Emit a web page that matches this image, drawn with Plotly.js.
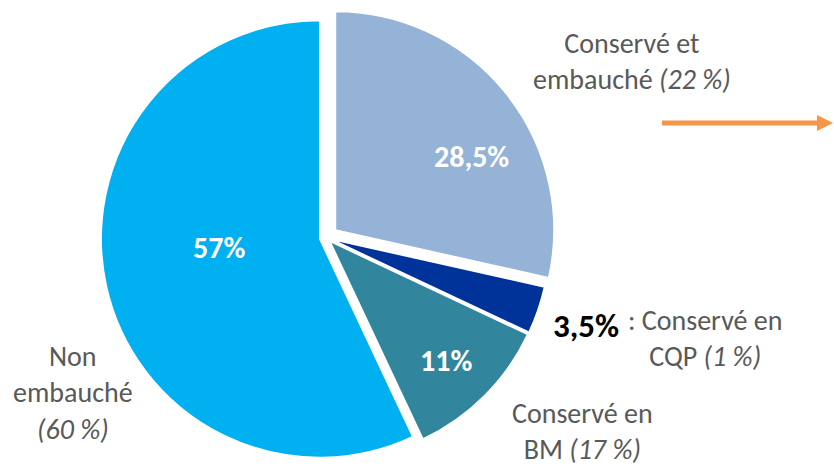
<!DOCTYPE html>
<html>
<head>
<meta charset="utf-8">
<script src="https://cdn.plot.ly/plotly-3.0.1.min.js"></script>
<style>html,body{margin:0;padding:0;background:#fff;}#chart{width:834px;height:468px;}</style>
</head>
<body>
<div id="chart"></div>
<script>
// ---- data ----
var labels = ["Conservé et embauché", "Conservé en CQP", "Conservé en BM", "Non embauché"];
var values = [28.5, 3.5, 11, 57];
var valueText = ["28,5%", "3,5%", "11%", "57%"];
var shareText = ["22 %", "1 %", "17 %", "60 %"];
var colors = ["#95B3D7", "#003399", "#31859C", "#00B0F0"];
var pulls = [0.055, 0.025, 0.025, 0.03];

var FONT = "Carlito, Lato, 'Liberation Sans', sans-serif";
var GRAY = "#595959";
var W = 834, H = 468;
function px(x) { return x / W; }
function py(y) { return 1 - y / H; }

var trace = {
  type: "pie",
  labels: labels,
  values: values,
  sort: false,
  direction: "clockwise",
  rotation: 0,
  pull: pulls,
  marker: { colors: colors, line: { color: "#ffffff", width: 1.5 } },
  textinfo: "none",
  hoverinfo: "label+percent",
  domain: { x: [0.09, 0.692], y: [0, 0.985] }
};

function insideLabel(i, x, y) {
  return { text: "<b>" + valueText[i] + "</b>", x: px(x), y: py(y), xref: "paper", yref: "paper",
    showarrow: false, xanchor: "center", yanchor: "middle",
    font: { family: FONT, size: 30, color: "#ffffff" } };
}

var annotations = [
  insideLabel(0, 471, 157),
  insideLabel(3, 219, 247),
  insideLabel(2, 446, 360),
  { text: "Conservé et<br>embauché <i>(" + shareText[0] + ")</i>", x: px(632), y: py(62),
    xref: "paper", yref: "paper", showarrow: false, xanchor: "center", yanchor: "middle",
    font: { family: FONT, size: 28, color: GRAY } },
  { text: "<b>" + valueText[1] + "</b>", x: px(551), y: py(326),
    xref: "paper", yref: "paper", showarrow: false, xanchor: "left", yanchor: "middle",
    font: { family: FONT, size: 33, color: "#000000" } },
  { text: ": Conservé en<br>CQP <i>(" + shareText[1] + ")</i>", x: px(705), y: py(338),
    xref: "paper", yref: "paper", showarrow: false, xanchor: "center", yanchor: "middle",
    font: { family: FONT, size: 28, color: GRAY } },
  { text: "Conservé en<br>BM <i>(" + shareText[2] + ")</i>", x: px(582), y: py(431),
    xref: "paper", yref: "paper", showarrow: false, xanchor: "center", yanchor: "middle",
    font: { family: FONT, size: 28, color: GRAY } },
  { text: "Non<br>embauché<br><i>(" + shareText[3] + ")</i>", x: px(73), y: py(393),
    xref: "paper", yref: "paper", showarrow: false, xanchor: "center", yanchor: "middle",
    font: { family: FONT, size: 28, color: GRAY } }
];

var shapes = [
  { type: "line", xref: "paper", yref: "paper", x0: px(662), x1: px(819), y0: py(123), y1: py(123),
    line: { color: "#F79646", width: 5 } },
  { type: "path", xref: "paper", yref: "paper",
    path: "M " + px(817) + "," + py(115) + " L " + px(833) + "," + py(123) + " L " + px(817) + "," + py(131) + " Z",
    fillcolor: "#F79646", line: { color: "#F79646", width: 0 } }
];

var layout = {
  width: W, height: H,
  margin: { l: 0, r: 0, t: 0, b: 0 },
  showlegend: false,
  paper_bgcolor: "#ffffff",
  annotations: annotations,
  shapes: shapes
};

Plotly.newPlot("chart", [trace], layout, { displayModeBar: false, staticPlot: true });
</script>
</body>
</html>
